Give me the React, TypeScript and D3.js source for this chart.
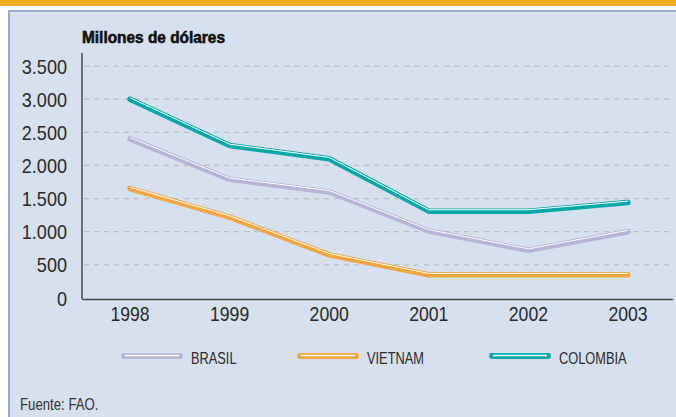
import { useEffect, useRef } from 'react';
import * as d3 from 'd3';

const years = ['1998', '1999', '2000', '2001', '2002', '2003'];
const brasil = [2400, 1790, 1600, 1010, 720, 1000];
const vietnam = [1650, 1220, 650, 350, 350, 350];
const colombia = [3000, 2300, 2100, 1310, 1310, 1440];
const yTicks = [0, 500, 1000, 1500, 2000, 2500, 3000, 3500];
const seriesNames = ['BRASIL', 'VIETNAM', 'COLOMBIA'];
const seriesColors = ['#b7b4d9', '#f3a53f', '#06a9a8'];

const W = 676;
const H = 417;
const font = '"Liberation Sans", Arial, sans-serif';

// squeeze a text node horizontally to mimic the condensed face
function condense(sel: d3.Selection<SVGTextElement, any, any, any>, k: number) {
  sel.each(function () {
    const w = this.getComputedTextLength();
    d3.select(this).attr('textLength', w * k).attr('lengthAdjust', 'spacingAndGlyphs');
  });
}

export default function App() {
  const svgRef = useRef<SVGSVGElement>(null);

  useEffect(() => {
    if (!svgRef.current) return;
    const svg = d3.select(svgRef.current);
    svg.selectAll('*').remove();

    // header + panel
    svg.append('rect').attr('x', 0).attr('y', 0).attr('width', W).attr('height', 6).attr('fill', '#f1ae1a');
    svg.append('rect').attr('x', 8).attr('y', 10).attr('width', W - 8).attr('height', H - 10).attr('fill', '#d7e0ee');
    svg.append('rect').attr('x', 8).attr('y', 10).attr('width', W - 8).attr('height', 2).attr('fill', '#95abcd');
    svg.append('rect').attr('x', 8).attr('y', 10).attr('width', 2).attr('height', H - 10).attr('fill', '#95abcd');

    const x = d3.scalePoint().domain(years).range([130, 628]);
    const y = d3.scaleLinear().domain([0, 3500]).range([298, 66]);

    // grid
    svg.append('g')
      .selectAll('line')
      .data(yTicks.filter(d => d > 0))
      .enter().append('line')
      .attr('x1', 84).attr('x2', 672)
      .attr('y1', d => y(d)).attr('y2', d => y(d))
      .attr('stroke', '#b9bfbf')
      .attr('stroke-width', 1.2)
      .attr('stroke-dasharray', '5,5');

    // axes
    svg.append('line').attr('x1', 82).attr('x2', 82).attr('y1', 53).attr('y2', 299)
      .attr('stroke', '#333').attr('stroke-width', 1.3);
    svg.append('line').attr('x1', 82).attr('x2', 673).attr('y1', 299.5).attr('y2', 299.5)
      .attr('stroke', '#444').attr('stroke-width', 1.5);

    const yLabels = svg.append('g')
      .selectAll('text')
      .data(yTicks)
      .enter().append('text')
      .attr('x', 67)
      .attr('y', d => y(d) + 7.5)
      .attr('text-anchor', 'end')
      .style('font-family', font)
      .style('font-size', '21px')
      .style('fill', '#2a2a2a')
      .text(d => d3.format(',')(d).replace(/,/g, '.'));
    condense(yLabels as any, 0.86);

    const xLabels = svg.append('g')
      .selectAll('text')
      .data(years)
      .enter().append('text')
      .attr('x', d => x(d) || 0)
      .attr('y', 321)
      .attr('text-anchor', 'middle')
      .style('font-family', font)
      .style('font-size', '21px')
      .style('fill', '#2a2a2a')
      .text(d => d);
    condense(xLabels as any, 0.84);

    svg.append('text')
      .attr('x', 82).attr('y', 42.5)
      .attr('textLength', 143)
      .attr('lengthAdjust', 'spacingAndGlyphs')
      .style('font-family', font)
      .style('font-size', '16.5px')
      .style('font-weight', 'bold')
      .style('fill', '#111')
      .style('stroke', '#111')
      .style('stroke-width', 0.6)
      .text('Millones de dólares');

    // lines
    const allSeries = [brasil, vietnam, colombia];
    const line = d3.line<number>().x((_, i) => x(years[i]) || 0).y(d => y(d));
    const hl = d3.line<number>().x((_, i) => x(years[i]) || 0).y(d => y(d) - 1.4);
    allSeries.forEach((s, i) => {
      svg.append('path').attr('d', line(s)).attr('fill', 'none')
        .attr('stroke', seriesColors[i]).attr('stroke-width', 5.5)
        .attr('stroke-linejoin', 'round').attr('stroke-linecap', 'round');
      svg.append('path').attr('d', hl(s)).attr('fill', 'none')
        .attr('stroke', '#fff').attr('stroke-width', 1)
        .attr('stroke-linejoin', 'round');
    });

    // legend
    const legendX = [122, 298, 490];
    const lg = svg.append('g').selectAll('g').data(seriesNames).enter().append('g')
      .attr('transform', (_, i) => `translate(${legendX[i]},356)`);
    lg.append('line').attr('x1', 2).attr('x2', 58).attr('y1', 0).attr('y2', 0)
      .attr('stroke', (_, i) => seriesColors[i]).attr('stroke-width', 6).attr('stroke-linecap', 'round');
    lg.append('line').attr('x1', 3).attr('x2', 57).attr('y1', -0.5).attr('y2', -0.5)
      .attr('stroke', '#fff').attr('stroke-width', 1.6);
    const lgText = lg.append('text').attr('x', 69).attr('y', 8)
      .style('font-family', font).style('font-size', '16px').style('fill', '#2a2a2a')
      .text(d => d);
    condense(lgText as any, 0.8);

    const src = svg.append('text').attr('x', 20).attr('y', 409.5)
      .style('font-family', font).style('font-size', '16.5px').style('fill', '#333')
      .text('Fuente: FAO.');
    condense(src as any, 0.8);
  }, []);

  return (
    <svg ref={svgRef} width={W} height={H}
      style={{ position: 'absolute', left: 0, top: 0, display: 'block' }} />
  );
}
